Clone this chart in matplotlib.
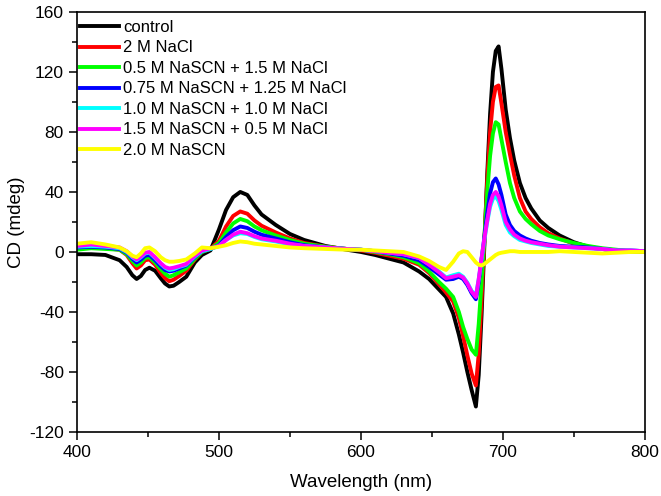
import matplotlib
matplotlib.use("Agg")
import matplotlib.pyplot as plt
from matplotlib.ticker import MultipleLocator

# wavelength grid (nm), shared by all spectra
wavelength = [400, 410, 420, 430, 435, 439, 442, 445, 448, 451, 455, 459, 462, 465, 468, 472,
              477, 483, 488, 494,
              500, 505, 510, 515, 520, 525, 530, 540, 550, 560, 575, 590, 600, 610, 620, 630,
              641, 648, 655, 660, 665, 669, 672, 675, 678, 681, 683, 685, 687, 689, 691, 693,
              695, 697, 699, 702, 705, 708, 712, 716, 720, 726, 732, 740, 750, 760, 770, 780,
              790, 800]

control = [-1.5, -1.5, -2, -5.5, -10, -15.5, -18, -16, -12, -10.5, -12.5, -17.5, -21, -23, -22.5, -20,
           -16.5, -7, -2, 1,
           15, 28, 36.5, 40, 38, 31, 25, 18, 12, 8, 4, 1.5, 0, -2, -4.5, -7,
           -13, -18, -25, -30, -41, -55, -67, -80, -92, -103, -82, -42, 5, 52, 92, 120,
           134, 137, 122, 95, 76, 61, 46, 36, 29, 21, 16, 11, 6.5, 3.5, 2, 1,
           0.5, 0]

nacl_2m = [2.5, 3, 2.5, 1.5, -2, -7.5, -11, -9, -5.5, -5, -8.5, -14, -17.5, -19.5, -18.5, -16,
           -12.5, -5, 0, 2,
           7.5, 17, 24, 27, 25.5, 21, 17.5, 13, 9, 6, 3.5, 2, 1, -0.5, -2.5, -4.5,
           -8.5, -14, -21.5, -27, -33, -44, -56, -69, -81, -89, -68, -32, 8, 48, 80, 100,
           110, 111, 99, 80, 65, 51, 36, 27, 22, 16.5, 12.5, 9, 5.5, 3, 2, 1,
           0.5, 0.5]

scn_05 = [1.5, 2.5, 2, 1.5, -1.5, -6, -9, -7, -4, -3.5, -7, -11.5, -14.5, -16.5, -15.5, -13.5,
          -11, -4.5, 0, 2,
          6, 13, 19, 22, 20.5, 17, 14.5, 11, 8, 5.5, 3.5, 2, 1.5, 0, -1.5, -3.5,
          -7.5, -13, -20, -24.5, -30, -40, -50, -58, -65, -68.5, -48, -20, 10, 40, 64, 79,
          86.5, 85, 75, 60, 46, 36, 27, 22, 18.5, 14, 11, 8.5, 6, 4, 2.5, 1.5,
          0.5, 0.5]

scn_075 = [3, 3.5, 3, 2, -0.5, -4.5, -7, -5, -2.5, -2, -5.5, -9.5, -12, -13, -12.5, -11,
           -9, -3.5, 0.5, 2,
           4.5, 10, 14.5, 17, 16, 13.5, 11.5, 9, 6.5, 4.5, 3, 2, 1.5, 0.5, -1, -2.5,
           -5.5, -10, -15, -18.5, -18, -16.5, -18, -22, -27.5, -31.5, -20, -5, 10, 26, 39, 46.5,
           49, 45, 38, 25, 18, 14, 11, 9, 7.5, 6, 5, 4, 3.5, 3, 2, 1,
           1, 0.5]

scn_10 = [3.5, 4, 3.5, 2.5, 0, -3.5, -5.5, -3.5, -1, -0.5, -4, -8, -10.5, -12, -11.5, -10,
          -8.5, -3, 0.5, 2,
          4, 8, 11, 12.5, 12, 10, 8.5, 7, 5, 4, 3, 2, 1.5, 0.5, -0.5, -1.5,
          -4, -8, -13, -17, -15.5, -14.5, -16.5, -20.5, -26, -29, -18, -5, 8, 20, 30, 35.5,
          37, 34, 28, 18, 13, 10.5, 8, 7, 6, 5, 4, 3.5, 3, 2.5, 2, 1,
          1, 0.5]

scn_15 = [4, 5, 4, 3, 0.5, -3, -5, -3, -0.5, 0, -3.5, -7.5, -10, -11, -10.5, -9.5,
          -8, -2.5, 1, 2.5,
          4, 8, 11.5, 13.5, 12.5, 10.5, 9, 7.5, 5.5, 4, 3, 2, 1.5, 0.5, -0.5, -1.5,
          -4, -8.5, -13.5, -17.5, -16.5, -15.5, -17, -21, -26.5, -30, -18, -4, 9, 21, 32, 38,
          40, 37, 31, 20, 15, 11.5, 9, 7.5, 6.5, 5.5, 4.5, 3.5, 3, 2.5, 2, 1,
          1, 0.5]

scn_20 = [5.5, 6.5, 5, 3, 0.5, -2.5, -3.5, -1, 2.5, 3, 0.5, -3.5, -5.5, -6.5, -6.5, -6,
          -5, -1, 3, 2.5,
          3.5, 4.5, 6, 7, 6.5, 5.5, 5, 4, 3, 2.5, 2, 1.5, 1.5, 1, 0.5, 0,
          -3, -6, -10, -12, -6.5, -1, 0.5, 0, -3.5, -7, -8.5, -9, -8, -6.5, -5, -3.5,
          -2, -1, -0.5, 0, 0.5, 0.5, 0, 0, 0, 0, 0, 0.5, 0, -0.5, -1, -0.5,
          0, 0]

labels = ["control", "2 M NaCl", "0.5 M NaSCN + 1.5 M NaCl", "0.75 M NaSCN + 1.25 M NaCl",
          "1.0 M NaSCN + 1.0 M NaCl", "1.5 M NaSCN + 0.5 M NaCl", "2.0 M NaSCN"]
colors = ["#000000", "#ff0000", "#00ff00", "#0000ff", "#00ffff", "#ff00ff", "#ffff00"]


def main():
    plt.rcParams["font.family"] = ["Liberation Sans", "DejaVu Sans"]
    plt.rcParams["axes.unicode_minus"] = False

    fig = plt.figure(figsize=(6.61, 4.96), dpi=100)
    ax = fig.add_axes([0.1165, 0.129, 0.859, 0.847])

    series = [control, nacl_2m, scn_05, scn_075, scn_10, scn_15, scn_20]
    for values, label, color in zip(series, labels, colors):
        ax.plot(wavelength, values, color=color, lw=2.8, label=label,
                solid_joinstyle="round")

    ax.set_xlim(400, 800)
    ax.set_ylim(-120, 160)
    ax.xaxis.set_major_locator(MultipleLocator(100))
    ax.xaxis.set_minor_locator(MultipleLocator(50))
    ax.yaxis.set_major_locator(MultipleLocator(40))
    ax.yaxis.set_minor_locator(MultipleLocator(20))
    ax.tick_params(which="major", direction="out", length=6, width=1.1, labelsize=12.5)
    ax.tick_params(which="minor", direction="out", length=3.5, width=1.1)
    for s in ax.spines.values():
        s.set_linewidth(1.2)

    ax.set_xlabel("Wavelength (nm)", fontsize=13.5, labelpad=10)
    ax.set_ylabel("CD (mdeg)", fontsize=13.5, labelpad=3)

    ax.legend(loc="upper left", bbox_to_anchor=(0, 0.987), frameon=False, fontsize=12,
              handlelength=2.35, handletextpad=0.27, labelspacing=0.33,
              borderaxespad=0.05, borderpad=0.1)

    fig.savefig("out.png", dpi=100)


if __name__ == "__main__":
    main()
